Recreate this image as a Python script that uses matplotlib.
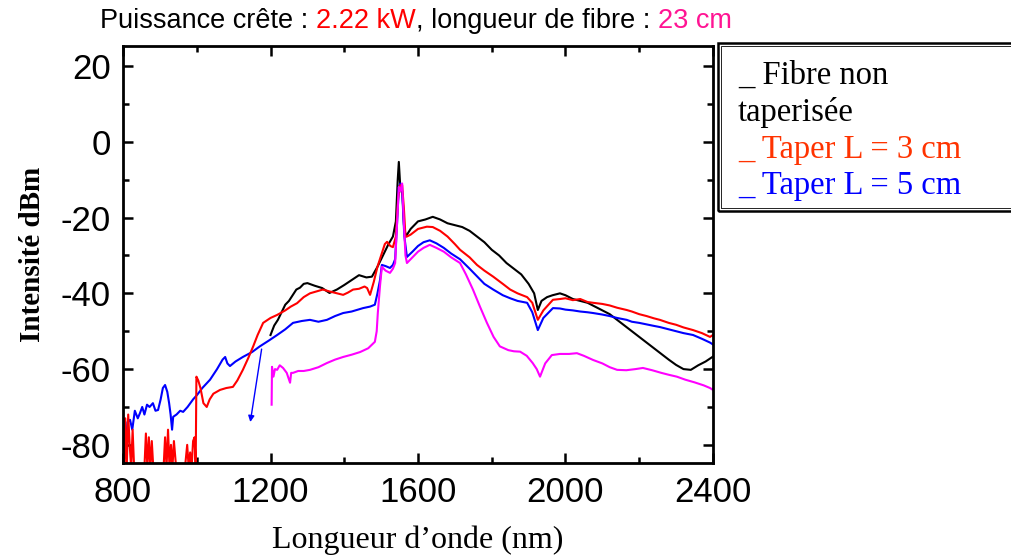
import matplotlib
matplotlib.use('Agg')
import matplotlib.pyplot as plt
from matplotlib.patches import Rectangle
from matplotlib.ticker import MultipleLocator

plt.rcParams['axes.unicode_minus'] = False

# spectra (nm, dBm)
black_x = [1200, 1210, 1220, 1230, 1240, 1250, 1260, 1270, 1280, 1290,
           1300, 1320, 1340, 1360, 1380, 1400, 1420, 1440, 1460, 1475,
           1490, 1505, 1520, 1532, 1540, 1545, 1548, 1552, 1558, 1562,
           1567, 1580, 1600, 1620, 1640, 1660, 1680, 1700, 1720, 1740,
           1760, 1780, 1800, 1820, 1840, 1860, 1880, 1900, 1915, 1925,
           1935, 1950, 1965, 1985, 2000, 2020, 2040, 2060, 2080, 2100,
           2120, 2140, 2160, 2180, 2200, 2220, 2240, 2260, 2280, 2300,
           2320, 2340, 2360, 2380, 2400]
black_y = [-51, -48.5, -47, -45, -43, -42, -40.5, -39, -38.5, -37.5,
           -37.3, -38, -38.6, -39.9, -39, -37.8, -36.5, -35.2, -35.8, -35.6,
           -33, -30, -27, -25, -21, -10, -5.3, -12, -14, -22,
           -25, -23, -21, -20.5, -19.8, -20.5, -21.5, -22, -22.5, -23.5,
           -25, -26.5, -28.5, -30, -32, -33.5, -35, -37.5, -40, -44.4,
           -42, -41, -40.5, -40, -40.5, -41.5, -42, -42.5, -43.5, -44.5,
           -45.5, -47, -48.5, -50, -51.5, -53, -54.5, -56, -57.5, -58.9,
           -60, -60.2, -59, -58, -56.7]

red_x = [800, 803, 806, 810, 814, 818, 822, 826, 830, 836,
         842, 850, 858, 862, 866, 870, 874, 878, 882, 888,
         896, 904, 910, 914, 918, 922, 926, 930, 934, 938,
         944, 952, 960, 968, 974, 978, 982, 986, 990, 994,
         997, 999, 1004, 1010, 1018, 1027, 1035, 1045, 1063, 1080,
         1098, 1110, 1125, 1140, 1153, 1165, 1180, 1200, 1218, 1240,
         1255, 1272, 1290, 1307, 1325, 1342, 1360, 1380, 1397, 1410,
         1424, 1440, 1455, 1462, 1470, 1480, 1490, 1500, 1510, 1516,
         1525, 1532, 1540, 1546, 1551, 1557, 1562, 1566, 1570, 1580,
         1600, 1624, 1640, 1660, 1680, 1700, 1714, 1740, 1760, 1780,
         1804, 1830, 1850, 1870, 1896, 1910, 1925, 1940, 1966, 1985,
         2000, 2020, 2040, 2060, 2075, 2100, 2120, 2140, 2166, 2180,
         2200, 2220, 2240, 2256, 2280, 2300, 2320, 2346, 2370, 2392,
         2400]
red_y = [-75, -86, -73, -86, -72, -80, -86, -76, -86, -86,
         -86, -86, -86, -77, -86, -78, -86, -79, -86, -86,
         -86, -86, -86, -78, -86, -76, -86, -80, -86, -79,
         -86, -86, -86, -86, -80, -86, -82, -86, -79, -78,
         -86, -62, -63, -65, -69, -70, -68, -66.5, -65.5, -65,
         -64.7, -63, -60.2, -57, -54, -51, -47.8, -46.5, -45.7, -44.5,
         -43.5, -42.6, -41, -40, -39.5, -39, -39.5, -40, -40.4, -39.8,
         -39, -38.8, -38.2, -38.6, -40.4, -37, -33, -30, -27, -26.4,
         -27.5, -27.8, -25, -15, -11.5, -11.4, -18, -25, -25, -24.5,
         -23, -22.4, -22.5, -23.5, -25, -27, -28.5, -30.5, -32.5, -34,
         -35.6, -37.5, -39, -40, -41, -42.5, -47, -44.5, -41.7, -41.5,
         -41.3, -41.8, -41.5, -42.3, -42.5, -42.8, -43.2, -43.8, -44.4, -44.8,
         -45.5, -46, -46.6, -47, -47.8, -48.3, -49, -49.7, -50.5, -51.5,
         -51]

blue_x = [800, 803, 808, 812, 819, 825, 832, 840, 846, 852,
          858, 865, 872, 881, 888, 895, 902, 908, 914, 920,
          925, 929, 933, 936, 945, 955, 963, 975, 990, 1001,
          1015, 1036, 1055, 1070, 1077, 1083, 1090, 1105, 1125, 1150,
          1171, 1195, 1218, 1240, 1261, 1285, 1307, 1330, 1353, 1375,
          1397, 1420, 1451, 1470, 1483, 1490, 1497, 1502, 1512, 1524,
          1532, 1538, 1544, 1548, 1552, 1557, 1563, 1570, 1585, 1600,
          1615, 1632, 1650, 1670, 1690, 1714, 1740, 1760, 1780, 1804,
          1830, 1850, 1870, 1896, 1910, 1925, 1940, 1966, 1985, 2000,
          2020, 2040, 2060, 2075, 2100, 2120, 2140, 2166, 2180, 2200,
          2220, 2240, 2256, 2280, 2300, 2320, 2346, 2370, 2392, 2400]
blue_y = [-85, -76, -80, -74, -73.4, -76, -71, -73, -71.6, -70,
          -72, -69.4, -70, -69, -71, -70.8, -68, -65, -64.2, -66,
          -69, -72, -76, -72.6, -72, -71, -71.3, -70, -68, -66.8,
          -65, -62.8, -60, -57.5, -56.8, -58.5, -59.2, -58, -56.8, -55.5,
          -54, -52.5, -51, -49.5, -47.8, -47.3, -47, -47.5, -47, -46,
          -45.2, -44.8, -43.9, -43.5, -43, -40, -36.5, -32.5, -32.8, -33.3,
          -32.5, -31, -20, -12, -11, -13, -25, -30.4, -29, -27.5,
          -26.5, -26, -26.8, -28, -29.5, -31, -33.5, -35.5, -37.5, -39,
          -40.5, -41.3, -42, -42.5, -45, -49.7, -46.5, -43.9, -44, -44.3,
          -44.5, -44.8, -45, -45.2, -45.6, -46, -46.5, -47, -47.5, -47.8,
          -48.2, -48.6, -48.9, -49.5, -50, -50.5, -51, -52, -53, -53.5]

mag_x = [1203, 1204, 1208, 1212, 1218, 1225, 1234, 1244, 1253, 1256,
         1261, 1275, 1290, 1307, 1330, 1353, 1375, 1397, 1420, 1443,
         1465, 1483, 1488, 1491, 1497, 1502, 1512, 1524, 1532, 1538,
         1543, 1548, 1552, 1557, 1562, 1566, 1570, 1585, 1600, 1615,
         1632, 1650, 1670, 1690, 1714, 1730, 1749, 1768, 1787, 1805,
         1822, 1845, 1860, 1877, 1895, 1911, 1922, 1931, 1945, 1963,
         1985, 2010, 2031, 2050, 2075, 2100, 2120, 2140, 2165, 2190,
         2210, 2235, 2260, 2280, 2302, 2325, 2350, 2375, 2392, 2400]
mag_y = [-69.4, -59.4, -62, -60, -60.2, -59, -59.7, -61, -63.6, -61,
         -61, -60.5, -60.5, -60.2, -59.5, -58.4, -57.5, -56.8, -56.2, -55.5,
         -54.5, -52.8, -50, -45.2, -38, -33, -34, -34.6, -33.5, -32,
         -22, -11.9, -13, -11, -22, -30, -32, -30.5, -29, -28,
         -27.2, -28, -29, -30.5, -32, -35, -39, -43.5, -47.8, -51.5,
         -54, -55, -55.3, -55.4, -56.5, -58.4, -60, -62, -58.5, -56.3,
         -56, -56, -55.8, -56.5, -57.6, -58.5, -59.5, -60.2, -60.3, -60,
         -59.7, -60.3, -61, -61.5, -62, -62.8, -63.5, -64.3, -65, -65.5]

arrow_tail = (1177, -54)
arrow_head = (1144, -74.7)

legend_lines = ['_ Fibre non', 'taperisée', '_ Taper L = 3 cm', '_ Taper L = 5 cm']
legend_colors = ['black', '#ff3300', 'blue']

fig = plt.figure(figsize=(10.11, 5.59), dpi=100)
ax = fig.add_axes([0.1217, 0.1717, 0.5835, 0.746])

ax.plot(black_x, black_y, color='black', lw=1.5)
ax.plot(blue_x, blue_y, color='blue', lw=1.5)
ax.plot(red_x, red_y, color='red', lw=1.5)
ax.plot(mag_x, mag_y, color='#ff00ff', lw=1.5)
ax.annotate('', xy=arrow_head, xytext=arrow_tail,
            arrowprops=dict(arrowstyle='-|>', color='blue', lw=1, mutation_scale=9))

ax.set_xlim(800, 2400)
ax.set_ylim(-84.8, 25.3)
ax.xaxis.set_major_locator(MultipleLocator(400))
ax.xaxis.set_minor_locator(MultipleLocator(200))
ax.yaxis.set_major_locator(MultipleLocator(20))
ax.yaxis.set_minor_locator(MultipleLocator(10))
ax.tick_params(which='both', direction='in', top=True, right=True, width=1.8)
ax.tick_params(which='major', length=7, labelsize=25, pad=9)
ax.tick_params(which='minor', length=4)
for lab in ax.get_xticklabels() + ax.get_yticklabels():
    lab.set_family('Liberation Sans')
for s in ax.spines.values():
    s.set_linewidth(2)

ax.set_xlabel('Longueur d’onde (nm)', family='Liberation Serif', fontsize=23, labelpad=12)
ax.set_ylabel('Intensité dBm', family='Liberation Serif', fontsize=21, fontweight='bold', labelpad=10)

# title in coloured pieces
pieces = [('Puissance crête : ', 'black'), ('2.22 kW', 'red'),
          (', longueur de fibre : ', 'black'), ('23 cm', '#ff1493')]
r = fig.canvas.get_renderer()
texts = []
total = 0
for s, c in pieces:
    t = fig.text(0, 0.963, s, color=c, fontsize=19.5, family='Liberation Sans', va='center')
    w = t.get_window_extent(renderer=r).width
    texts.append((t, w))
    total += w
x0 = 416 - total / 2
for t, w in texts:
    t.set_x(x0 / fig.bbox.width)
    x0 += w

# legend box outside the axes
fig.patches.append(Rectangle((718 / 1011, 1 - 211 / 559), 0.3, (211 - 43) / 559,
                             transform=fig.transFigure, fill=False, lw=1.8, ec='black'))
fig.patches.append(Rectangle((721 / 1011, 1 - 208 / 559), 0.3, (208 - 46) / 559,
                             transform=fig.transFigure, fill=False, lw=0.6, ec='black'))
ys = [75, 112, 150, 186]
cols = [legend_colors[0], legend_colors[0], legend_colors[1], legend_colors[2]]
for txt, y, c in zip(legend_lines, ys, cols):
    fig.text(738 / 1011, 1 - y / 559, txt, color=c, fontsize=23.5,
             family='Liberation Serif', va='center')

fig.savefig('out.png', dpi=100)
